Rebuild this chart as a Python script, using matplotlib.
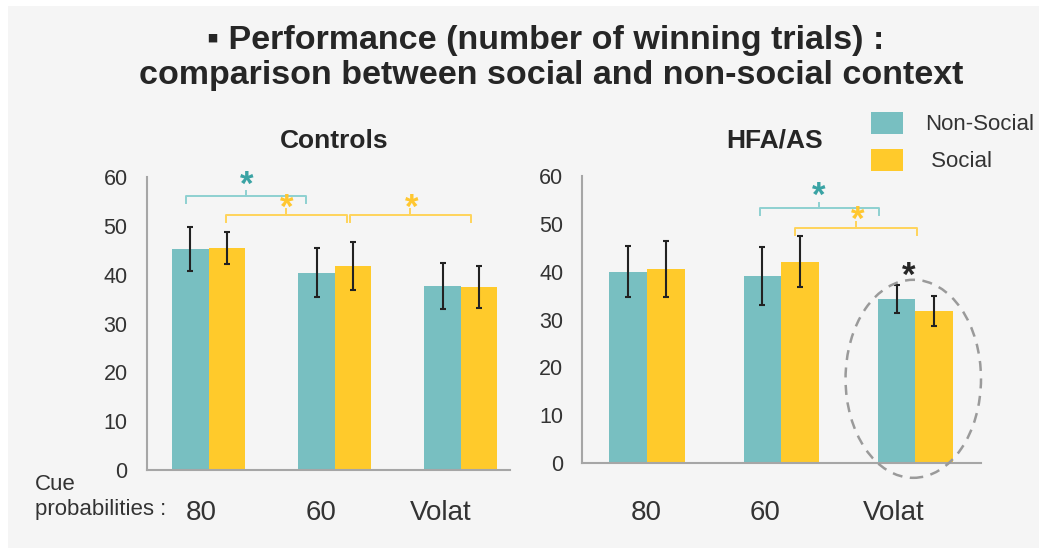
import matplotlib
matplotlib.use("Agg")
import matplotlib.pyplot as plt
from matplotlib.patches import Rectangle, Ellipse

plt.rcParams['font.family'] = ['Liberation Sans', 'DejaVu Sans']

# winning trials per cue probability condition
conditions = ["80", "60", "Volat"]
series = ["Non-Social", " Social"]

controls_nonsocial = [45.3, 40.4, 37.7]
controls_nonsocial_err = [4.5, 5.0, 4.7]
controls_social = [45.5, 41.8, 37.5]
controls_social_err = [3.3, 4.9, 4.3]

hfa_nonsocial = [40.0, 39.1, 34.3]
hfa_nonsocial_err = [5.3, 6.1, 3.0]
hfa_social = [40.6, 42.1, 31.8]
hfa_social_err = [5.8, 5.4, 3.1]

# significance brackets: (x_start, x_end, y_line, color)
controls_brackets = [(-0.18, 0.77, 56.1, "teal"),
                     (0.135, 1.095, 52.3, "gold"),
                     (1.12, 2.08, 52.3, "gold")]
hfa_brackets = [(0.84, 1.73, 53.3, "teal"),
                (1.10, 2.01, 49.2, "gold")]
# asterisks: (x, y, color)
controls_stars = [(0.30, 60.4, "teal"), (0.62, 55.7, "gold"), (1.61, 55.7, "gold")]
hfa_stars = [(1.28, 57.9, "teal"), (1.57, 52.9, "gold"), (1.95, 41.0, "dark")]

TEAL = "#78bfc1"
YELLOW = "#ffca2b"
line_col = {"teal": "#8ed0d1", "gold": "#ffd45a"}
star_col = {"teal": "#3aa3a4", "gold": "#ffc730", "dark": "#262626"}
TXT = "#333333"

fig = plt.figure(figsize=(10.39, 5.48), dpi=100, facecolor="white")
fig.patches.append(Rectangle((8 / 1039, 0), 1, 1 - 6 / 548, transform=fig.transFigure,
                             facecolor="#f5f5f5", edgecolor="none", zorder=-10))


def px(x, y):
    return x / 1039, 1 - y / 548


def panel(rect, ns, ns_err, so, so_err, xlim, width, shift, pad_x, pad_y, brackets, stars):
    ax = fig.add_axes(rect)
    ax.set_facecolor("none")
    xs = list(range(len(conditions)))
    b1 = ax.bar([x - width / 2 for x in xs], ns, width, color=TEAL, zorder=2)
    b2 = ax.bar([x + width / 2 for x in xs], so, width, color=YELLOW, zorder=2)
    ax.errorbar([x - width / 2 for x in xs], ns, yerr=ns_err, fmt="none", ecolor="#222222",
                elinewidth=1.5, capsize=2.5, capthick=1.5, zorder=3)
    ax.errorbar([x + width / 2 for x in xs], so, yerr=so_err, fmt="none", ecolor="#222222",
                elinewidth=1.5, capsize=2.5, capthick=1.5, zorder=3)
    ax.set_xlim(*xlim)
    ax.set_ylim(0, 60)
    ax.set_yticks(range(0, 61, 10))
    ax.set_xticks([x + s for x, s in zip(xs, shift)])
    ax.set_xticklabels(conditions)
    for s in ("top", "right"):
        ax.spines[s].set_visible(False)
    for s in ("left", "bottom"):
        ax.spines[s].set_color("#a6a6a6")
        ax.spines[s].set_linewidth(1.5)
    ax.tick_params(axis="y", length=0, pad=pad_y, labelsize=15.5, labelcolor=TXT)
    ax.tick_params(axis="x", length=0, pad=pad_x, labelsize=20, labelcolor=TXT)

    for x0, x1, y, c in brackets:
        tip = (x0 + x1) / 2
        ax.plot([x0, x0, x1, x1], [y - 1.5, y, y, y - 1.5], color=line_col[c], lw=1.4,
                clip_on=False, zorder=4)
        ax.plot([tip, tip], [y, y + 1.1], color=line_col[c], lw=1.4, clip_on=False, zorder=4)
    for x, y, c in stars:
        ax.annotate("*", xy=(x, y), xytext=(0, -14), textcoords="offset points",
                    ha="center", va="baseline", fontsize=25, fontweight="bold",
                    color=star_col[c], annotation_clip=False, zorder=5)
    return ax, b1, b2


ax1, _, _ = panel([147 / 1039, 1 - 470 / 548, 363 / 1039, 293 / 548],
                  controls_nonsocial, controls_nonsocial_err,
                  controls_social, controls_social_err,
                  (-0.49, 2.39), 0.29, [-0.056, -0.11, -0.16], 21.5, 14,
                  controls_brackets, controls_stars)
ax2, h1, h2 = panel([582 / 1039, 1 - 463 / 548, 399 / 1039, 287 / 548],
                    hfa_nonsocial, hfa_nonsocial_err,
                    hfa_social, hfa_social_err,
                    (-0.485, 2.49), 0.28, [-0.007, -0.12, -0.16], 26.5, 13.5,
                    hfa_brackets, hfa_stars)

# highlight around the volatile condition in the HFA/AS group
ax2.add_patch(Ellipse((1.985, 17.6), 1.01, 41.4, fill=False, edgecolor="#9a9a9a",
                      lw=1.8, ls=(0, (4, 3)), clip_on=False, zorder=6))

fig.text(*px(546, 40), "\u25aa Performance (number of winning trials) :", ha="center",
         va="center", fontsize=24.5, fontweight="bold", color="#262626")
fig.text(*px(551, 76), "comparison between social and non-social context", ha="center",
         va="center", fontsize=24.5, fontweight="bold", color="#262626")
fig.text(*px(334, 141), "Controls", ha="center", va="center", fontsize=19,
         fontweight="bold", color="#262626")
fig.text(*px(775, 141), "HFA/AS", ha="center", va="center", fontsize=19,
         fontweight="bold", color="#262626")
fig.text(*px(35, 484), "Cue", ha="left", va="center", fontsize=16, color=TXT)
fig.text(*px(35, 510), "probabilities :", ha="left", va="center", fontsize=16, color=TXT)

fig.legend([h1, h2], series, loc="upper left", bbox_to_anchor=px(871, 112),
           frameon=False, borderpad=0, borderaxespad=0, fontsize=16,
           handlelength=1.44, handleheight=1.13, handletextpad=1.0, labelspacing=0.6,
           labelcolor=TXT)

fig.savefig("out.png", dpi=100, facecolor=fig.get_facecolor())
